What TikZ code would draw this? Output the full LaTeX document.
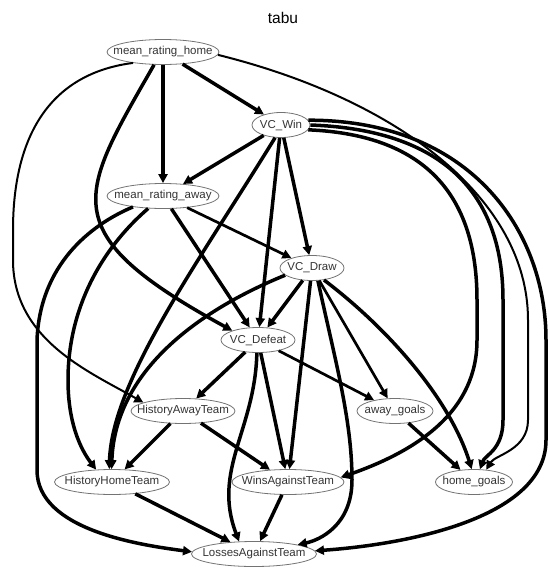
\documentclass[tikz,border=0pt]{standalone}
\usepackage{fontspec}
\setmainfont{Liberation Sans}
\usetikzlibrary{arrows.meta,shapes.geometric}
\newcommand{\varname}[1]{\makebox[0pt]{#1}}
\tikzset{
  var/.style={ellipse,draw=black!55,line width=0.8pt,minimum height=25pt,
    inner sep=0pt,text=black!80},
  dep/.style={-{Triangle[length=9pt,width=9pt]},line width=3.5pt},
  depmid/.style={dep,line width=2.7pt},
  depweak/.style={dep,line width=2pt}
}

\begin{document}
\begin{tikzpicture}[x=1pt,y=1pt,font=\fontsize{11.5}{13}\selectfont]
  \useasboundingbox (0,0) rectangle (549,-570);
  \node[font=\fontsize{15.5}{18}\selectfont,inner sep=0pt] (title) at (283,-17.5) {tabu};

  % variables
  \node[var,minimum width=112pt] (mrh) at (163,-52) {\varname{mean\_rating\_home}};
  \node[var,minimum width=58pt] (vcwin) at (281,-125) {\varname{VC\_Win}};
  \node[var,minimum width=112pt] (mra) at (163,-196) {\varname{mean\_rating\_away}};
  \node[var,minimum width=64pt] (vcdraw) at (312,-268) {\varname{VC\_Draw}};
  \node[var,minimum width=74pt] (vcdefeat) at (258,-340) {\varname{VC\_Defeat}};
  \node[var,minimum width=104pt] (hat) at (183,-411) {\varname{HistoryAwayTeam}};
  \node[var,minimum width=76pt] (awayg) at (395,-411) {\varname{away\_goals}};
  \node[var,minimum width=115pt] (hht) at (112,-482) {\varname{HistoryHomeTeam}};
  \node[var,minimum width=112pt] (wat) at (288,-482) {\varname{WinsAgainstTeam}};
  \node[var,minimum width=77pt] (homeg) at (474,-482) {\varname{home\_goals}};
  \node[var,minimum width=125pt] (lat) at (254,-554) {\varname{LossesAgainstTeam}};

  % arcs from mean_rating_home
  \draw[dep] (mrh) -- (vcwin);
  \draw[dep] (mrh) -- (mra);
  \draw[dep] (mrh.-125) .. controls (79,-196) and (52,-232) .. (vcdefeat.160);
  \draw[depweak] (mrh.-160) .. controls (40,-75) and (13,-150) .. (13,-230)
    -- (13,-260) .. controls (13,-340) and (90,-372) .. (hat.168);
  \draw[depweak] (mrh.-3) .. controls (400,-100) and (528,-200) .. (528,-320)
    -- (528,-420) .. controls (528,-450) and (495,-455) .. (homeg.45);

  % arcs from VC_Win
  \draw[dep] (vcwin) -- (mra);
  \draw[dep] (vcwin.-115) .. controls (200,-260) and (112,-380) .. (hht.102);
  \draw[dep] (vcwin) -- (vcdefeat);
  \draw[dep] (vcwin) -- (vcdraw);
  \draw[dep] (vcwin.-10) .. controls (430,-135) and (477,-200) .. (477,-300)
    -- (477,-340) .. controls (477,-410) and (420,-450) .. (wat.5);
  \draw[dep] (vcwin.0) .. controls (450,-130) and (503,-200) .. (503,-300)
    -- (503,-420) .. controls (503,-450) and (485,-455) .. (homeg.65);
  \draw[dep] (vcwin.10) .. controls (470,-120) and (546,-230) .. (546,-340)
    -- (546,-440) .. controls (546,-520) and (400,-545) .. (lat.3);

  % arcs from mean_rating_away
  \draw[dep] (mra.-160) .. controls (90,-225) and (40,-265) .. (37,-340)
    -- (37,-470) .. controls (37,-530) and (140,-545) .. (lat.178);
  \draw[dep] (mra.-140) .. controls (100,-250) and (68,-310) .. (68,-380)
    .. controls (68,-430) and (85,-455) .. (hht.142);
  \draw[dep] (mra) -- (vcdefeat);
  \draw[depmid] (mra) -- (vcdraw);

  % arcs from VC_Draw
  \draw[dep] (vcdraw) -- (vcdefeat);
  \draw[dep] (vcdraw.-165) .. controls (200,-310) and (115,-370) .. (hht.92);
  \draw[dep] (vcdraw) -- (wat);
  \draw[dep] (vcdraw.-65) .. controls (335,-360) and (352,-420) .. (352,-480)
    .. controls (352,-525) and (320,-540) .. (lat.12);
  \draw[depmid] (vcdraw) -- (awayg);
  \draw[dep] (vcdraw.-45) .. controls (390,-330) and (450,-400) .. (homeg.100);

  % arcs from VC_Defeat
  \draw[dep] (vcdefeat) -- (hat);
  \draw[dep] (vcdefeat) -- (wat);
  \draw[dep] (vcdefeat.-95) .. controls (255,-430) and (212,-470) .. (lat.140);
  \draw[depmid] (vcdefeat) -- (awayg);

  % bottom ranks
  \draw[dep] (hat) -- (hht);
  \draw[dep] (hat) -- (wat);
  \draw[dep] (hht) -- (lat);
  \draw[dep] (wat) -- (lat);
  \draw[dep] (awayg) -- (homeg);
\end{tikzpicture}
\end{document}
